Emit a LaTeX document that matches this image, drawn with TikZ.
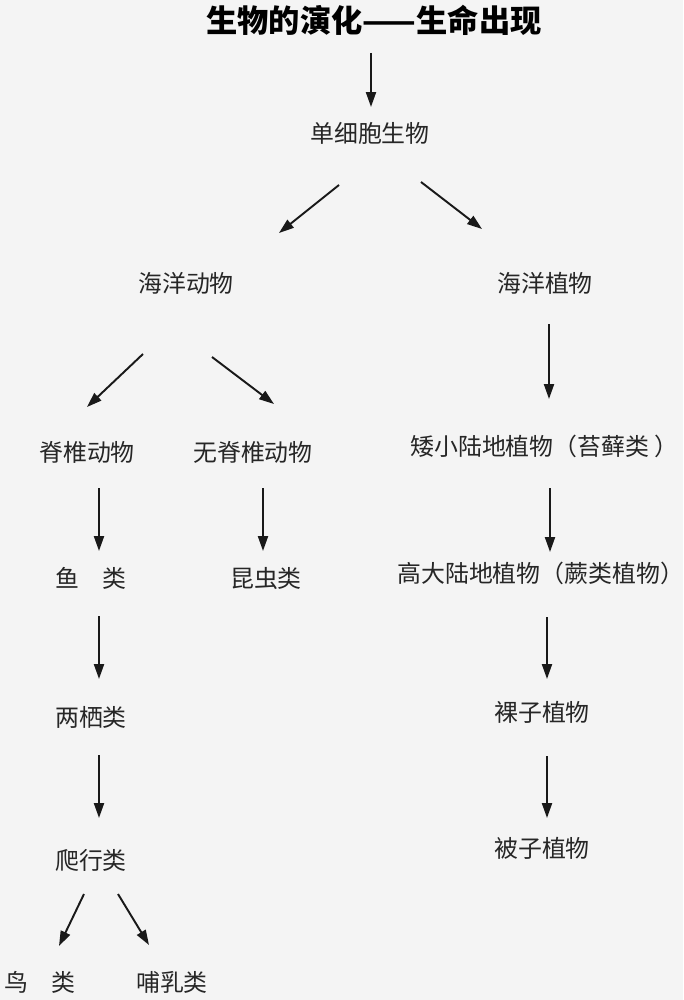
\documentclass[tikz,border=0pt]{standalone}
\usepackage{fontspec}
\setmainfont{Noto Sans CJK SC}
\usetikzlibrary{arrows.meta}
\definecolor{bg}{RGB}{244,244,244}

\begin{document}
\begin{tikzpicture}[x=0.02cm, y=-0.02cm,
    every node/.style={inner sep=0pt, font=\fontsize{13.6}{16}\selectfont, text=black!85},
    arr/.style={-{Triangle[length=8.5pt,width=5.7pt]}, line width=1.1pt, black!90}]
    \clip (0,0) rectangle (683,1000);
    \fill[bg] (0,0) rectangle (683,1000);
    \node[font=\fontsize{17.8}{20}\selectfont\bfseries, text=black] (title) at (374,20) {生物的演化——生命出现};
    \node (unicell) at (370,133) {单细胞生物};
    \node (seaani) at (186,283) {海洋动物};
    \node (seaplt) at (545,283) {海洋植物};
    \node (vert) at (87,452) {脊椎动物};
    \node (invert) at (253,452) {无脊椎动物};
    \node[anchor=west] (moss) at (410,446) {矮小陆地植物（苔藓类 ）};
    \node (fish) at (91,578) {鱼　类};
    \node (insect) at (266,578) {昆虫类};
    \node[anchor=west] (fern) at (397,573) {高大陆地植物（蕨类植物）};
    \node (amph) at (91,717) {两栖类};
    \node (gymno) at (542,712) {裸子植物};
    \node (rept) at (91,860) {爬行类};
    \node (angio) at (542,848) {被子植物};
    \node (bird) at (40,982) {鸟　类};
    \node (mammal) at (172,982) {哺乳类};
    \draw[arr] ([shift={(-3,33)}]title.center) -- ([shift={(1,-26)}]unicell.center);
    \draw[arr] ([shift={(-31,52)}]unicell.center) -- ([shift={(93,-50)}]seaani.center);
    \draw[arr] ([shift={(51,49)}]unicell.center) -- ([shift={(-63,-54)}]seaplt.center);
    \draw[arr] ([shift={(4,41)}]seaplt.center) -- ([shift={(139,-47)}]moss.west);
    \draw[arr] ([shift={(-43,71)}]seaani.center) -- ([shift={(0,-45)}]vert.center);
    \draw[arr] ([shift={(26,74)}]seaani.center) -- ([shift={(21,-48)}]invert.center);
    \draw[arr] ([shift={(12,36)}]vert.center) -- ([shift={(8,-27)}]fish.center);
    \draw[arr] ([shift={(10,36)}]invert.center) -- ([shift={(-3,-27)}]insect.center);
    \draw[arr] ([shift={(140,42)}]moss.west) -- ([shift={(153,-21)}]fern.west);
    \draw[arr] ([shift={(150,44)}]fern.west) -- ([shift={(5,-33)}]gymno.center);
    \draw[arr] ([shift={(8,38)}]fish.center) -- ([shift={(8,-38)}]amph.center);
    \draw[arr] ([shift={(8,38)}]amph.center) -- ([shift={(8,-42)}]rept.center);
    \draw[arr] ([shift={(5,44)}]gymno.center) -- ([shift={(5,-30)}]angio.center);
    \draw[arr] ([shift={(-7,34)}]rept.center) -- ([shift={(19,-36)}]bird.center);
    \draw[arr] ([shift={(27,34)}]rept.center) -- ([shift={(-23,-37)}]mammal.center);
\end{tikzpicture}
\end{document}
